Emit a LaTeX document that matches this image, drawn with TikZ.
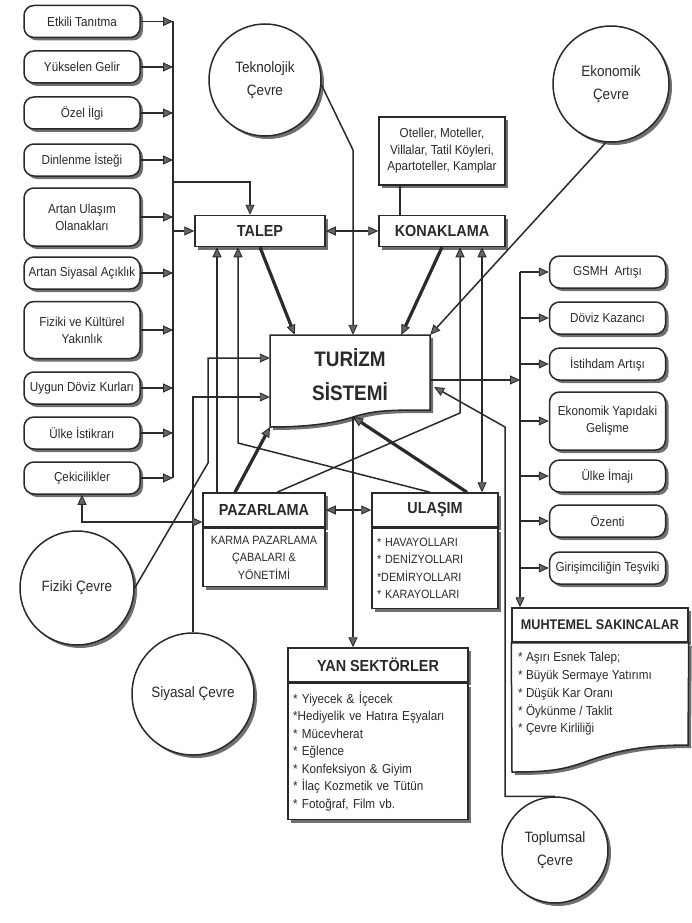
\documentclass[tikz,border=0pt]{standalone}
\usepackage{fontspec}
\setmainfont{Liberation Sans}[FakeStretch=0.9]
\usetikzlibrary{arrows.meta, shadows, positioning}

\definecolor{ink}{HTML}{2A2A2A}
\definecolor{shade}{HTML}{707070}
\definecolor{tipgray}{HTML}{666666}

\begin{document}
\begin{tikzpicture}[x=1pt, y=-1pt,
    >={Triangle[length=10pt, width=9pt, fill=tipgray, line width=0.9pt]},
    line/.style={draw=ink, line width=1.5pt},
    arr/.style={line, ->},
    dbl/.style={line, <->},
    thk/.style={draw=ink, line width=3.2pt, ->},
    shad/.style={drop shadow={shadow xshift=3pt, shadow yshift=-3pt, fill=shade, opacity=1}},
    lbox/.style={line, shad, rounded corners=10pt, fill=white, text=ink, align=center,
        minimum width=116pt, minimum height=32pt, inner sep=2pt,
        font=\fontsize{13}{17}\selectfont},
    hbox/.style={line, shad, rectangle, fill=white, text=ink, minimum height=34pt,
        inner sep=2pt, font=\bfseries\fontsize{16}{19}\selectfont},
    bbox/.style={line, shad, rectangle, fill=white, text=ink, inner sep=5pt},
    circ/.style={line, shad, circle, fill=white, text=ink, align=center, inner sep=0pt,
        font=\fontsize{15}{23}\selectfont},
  ]

    % Page
    \useasboundingbox (0,0) rectangle (691,923);
    \fill[white] (0,0) rectangle (691,923);

    \coordinate (busl) at (173,0);   % left bus
    \coordinate (busr) at (520,0);   % right bus

    % Factors, left
    \node[lbox] (etk) at (82,21.5) {Etkili Tanıtma};
    \node[lbox] (yuk) at (82,67)   {Yükselen Gelir};
    \node[lbox] (ozi) at (82,113)  {Özel İlgi};
    \node[lbox] (din) at (82,160)  {Dinlenme İsteği};
    \node[lbox, minimum height=58pt] (aul) at (82,217) {Artan Ulaşım\\Olanakları};
    \node[lbox] (asa) at (82,273)  {Artan Siyasal Açıklık};
    \node[lbox, minimum height=57pt] (fkb) at (82,330) {Fiziki ve Kültürel\\Yakınlık};
    \node[lbox] (udk) at (82,388)  {Uygun Döviz Kurları};
    \node[lbox] (uis) at (82,433)  {Ülke İstikrarı};
    \node[lbox] (cek) at (82,478)  {Çekicilikler};

    % Effects, right
    \node[lbox] (gsm) at (607.5,272) {GSMH\ \ Artışı};
    \node[lbox] (dov) at (607.5,318) {Döviz Kazancı};
    \node[lbox] (ist) at (607.5,364) {İstihdam Artışı};
    \node[lbox, minimum height=58pt] (eyg) at (607.5,421) {Ekonomik Yapıdaki\\Gelişme};
    \node[lbox] (uim) at (607.5,476) {Ülke İmajı};
    \node[lbox] (ozn) at (607.5,521) {Özenti};
    \node[lbox] (gir) at (607.5,568) {Girişimciliğin Teşviki};

    % Environments
    \node[circ, minimum size=112pt] (tek) at (265,80)  {Teknolojik\\Çevre};
    \node[circ, minimum size=116pt] (eko) at (611,84)  {Ekonomik\\Çevre};
    \node[circ, minimum size=114pt] (fiz) at (77,588)  {Fiziki Çevre};
    \node[circ, minimum size=122pt] (siy) at (193,694) {Siyasal Çevre};
    \node[circ, minimum size=106pt] (tpl) at (555,850) {Toplumsal\\Çevre};

    % Demand, accommodation
    \node[hbox, minimum width=130pt, minimum height=31pt] (tal) at (260,231) {TALEP};
    \node[hbox, minimum width=126pt, minimum height=31pt] (kon) at (442,231) {KONAKLAMA};
    \node[bbox, minimum width=126pt, minimum height=68pt, align=center,
          font=\fontsize{13}{16.5}\selectfont] (ote) at (442,151)
          {Oteller, Moteller,\\Villalar, Tatil Köyleri,\\Apartoteller, Kamplar};

    % Tourism system (wavy bottom)
    \coordinate (wl) at (270,427);
    \coordinate (wm) at (353,417);
    \draw[line, shad, fill=white] (270,335) -- (430,335) -- (430,410)
        .. controls (392,410) and (375,410) .. (wm)
        .. controls (331,424) and (305,427) .. (wl) -- cycle;
    \node[text=ink, align=center, minimum width=160pt, minimum height=80pt, inner sep=0pt,
          font=\bfseries\fontsize{21}{34}\selectfont] (tur) at (350,375) {TURİZM\\SİSTEMİ};

    % Marketing, transport
    \node[hbox, minimum width=122pt] (pazh) at (264,510) {PAZARLAMA};
    \node[bbox, below=0pt of pazh, minimum width=122pt, minimum height=58pt, align=center,
          font=\fontsize{12}{17.5}\selectfont] (pazb)
          {KARMA PAZARLAMA\\ÇABALARI \&\\YÖNETİMİ};
    \node[hbox, minimum width=126pt] (ulah) at (435,510) {ULAŞIM};
    \node[bbox, below=0pt of ulah, minimum width=126pt, minimum height=80pt,
          text width=116pt, align=left, font=\fontsize{12}{17.5}\selectfont] (ulab)
          {{*} HAVAYOLLARI\\{*} DENİZYOLLARI\\{*}DEMİRYOLLARI\\{*} KARAYOLLARI};

    % Side sectors
    \node[hbox, minimum width=180pt] (yanh) at (378,665) {YAN SEKTÖRLER};
    \node[bbox, below=0pt of yanh, minimum width=180pt, minimum height=136pt,
          text width=170pt, align=left, font=\fontsize{13}{17.5}\selectfont] (yanb)
          {{*} Yiyecek \& İçecek\\{*}Hediyelik ve Hatıra Eşyaları\\{*} Mücevherat\\%
           {*} Eğlence\\{*} Konfeksiyon \& Giyim\\{*} İlaç Kozmetik ve Tütün\\%
           {*} Fotoğraf, Film vb.};

    % Possible drawbacks
    \node[hbox, minimum width=176pt, font=\bfseries\fontsize{14}{17}\selectfont] (muhh)
          at (600,625) {MUHTEMEL SAKINCALAR};
    \draw[line, shad, fill=white] (muhh.south west) -- (muhh.south east) -- (688,745)
        .. controls (640,745) and (612,752) .. (585,762)
        .. controls (562,770) and (548,772) .. (512,772) -- cycle;
    \node[anchor=north west, align=left, text=ink, inner sep=0pt,
          font=\fontsize{13}{17.8}\selectfont] (muhl) at (518,652)
          {{*} Aşırı Esnek Talep;\\{*} Büyük Sermaye Yatırımı\\{*} Düşük Kar Oranı\\%
           {*} Öykünme / Taklit\\{*} Çevre Kirliliği};

    % Left bus into TALEP
    \draw[line] (etk.east -| busl) -- (cek.east -| busl);
    \foreach \n in {etk,yuk,ozi,din,aul,asa,fkb,udk,uis,cek}
        \draw[arr] (\n.east) -- (\n.east -| busl);
    \coordinate (c1) at (250,182);
    \draw[arr] (c1 -| busl) -- (c1) -- (c1 |- tal.north);
    \draw[arr] (tal.west -| busl) -- (tal.west);

    % TALEP <-> KONAKLAMA, list
    \draw[dbl] (tal.east) -- (kon.west);
    \draw[line] ([xshift=-42pt]ote.south) -- ([xshift=-42pt]ote.south |- kon.north);

    % Into the system
    \coordinate (c2) at (353,150);
    \draw[arr] (tek.-5) -- (c2) -- (c2 |- tur.north);
    \draw[arr] (eko.-95) -- (tur.north east);
    \draw[thk] (tal.south) -- (tur.144);
    \draw[thk] (kon.south) -- (tur.38);
    \draw[thk] ([xshift=-29pt]pazh.north) -- (wl);
    \draw[thk] ([xshift=32pt]ulah.north) -- (wm);
    \coordinate (c3) at (208,463);
    \coordinate (c4) at (208,358);
    \draw[arr] (fiz.east) -- (c3) -- (c4) -- (c4 -| tur.west);
    \coordinate (c5) at (193,397);
    \draw[arr] (siy.north) -- (c5) -- (c5 -| tur.west);
    \coordinate (c8) at (505,427);
    \draw[arr] (tpl.north) -| (c8) -- ([xshift=4pt, yshift=-12pt]tur.east);

    % Back into TALEP, KONAKLAMA
    \draw[arr] ([xshift=-47pt]pazh.north) -- ([xshift=-47pt]pazh.north |- tal.south);
    \coordinate (c6) at (238,443);
    \draw[arr] ([xshift=-5pt]ulah.north) -- (c6) -- (c6 |- tal.south);
    \coordinate (c7) at (460,413);
    \draw[arr] ([xshift=13pt]pazh.north) -- (c7) -- (c7 |- kon.south);
    \draw[dbl] ([xshift=47pt]ulah.north) -- ([xshift=47pt]ulah.north |- kon.south);

    % PAZARLAMA links
    \draw[dbl] (pazh.east) -- (ulah.west);
    \draw[dbl] (cek.south) |- ([yshift=-12pt]pazh.west);

    % Out of the system
    \draw[arr] (wm) -- (wm |- yanh.north);
    \draw[arr] ([yshift=-5pt]tur.east) -- ([yshift=-5pt]tur.east -| busr);
    \draw[arr] (gsm.west -| busr) -- (busr |- muhh.north);
    \foreach \n in {gsm,dov,ist,eyg,uim,ozn,gir}
        \draw[arr] (\n.west -| busr) -- (\n.west);

\end{tikzpicture}
\end{document}
